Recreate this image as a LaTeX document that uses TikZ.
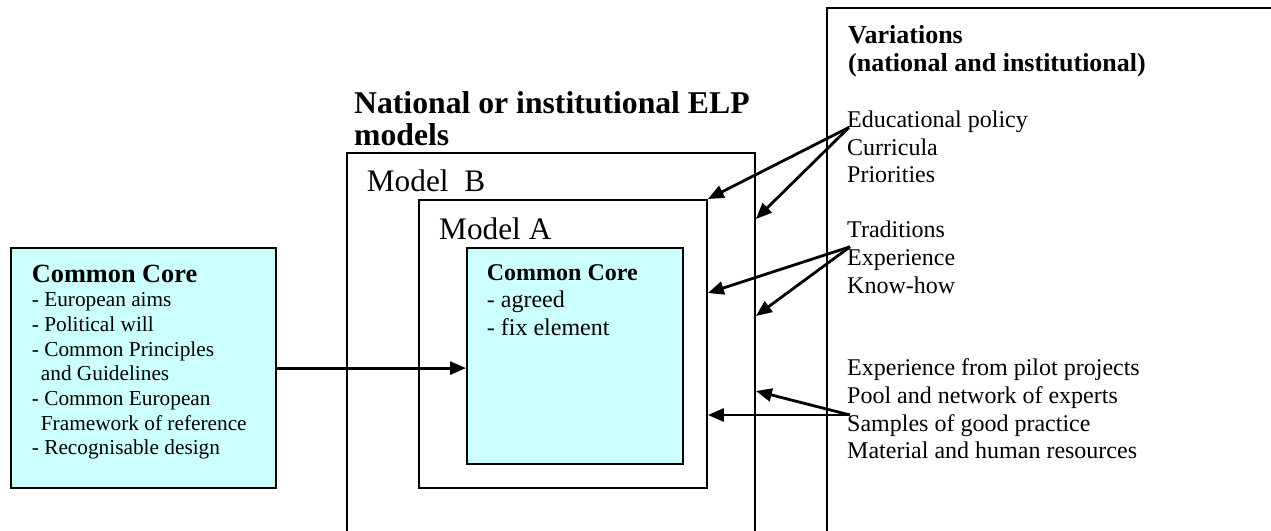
\documentclass[tikz,border=0pt]{standalone}
\usepackage{fontspec}
\setmainfont{Liberation Serif}
\usepackage{tikz}
\usetikzlibrary{arrows.meta}
\definecolor{corecyan}{HTML}{CCFFFF}
\newcommand{\fsize}[2]{\fontsize{#1}{#2}\selectfont}
\newcommand{\txtlines}[1]{\begin{tabular}[t]{@{}l@{}}#1\end{tabular}}
\tikzset{frame/.style={draw, line width=1.9pt, anchor=north west, inner sep=0pt}}
\tikzset{corebox/.style={frame, fill=corecyan, line width=2.2pt}}
\tikzset{pointer/.style={-{Triangle[length=16pt,width=13pt]}, line width=2.8pt}}
\tikzset{txt/.style={anchor=base west, inner sep=0pt}}

\begin{document}
\begin{tikzpicture}[x=1pt, y=-1pt]
    \useasboundingbox (0,0) rectangle (1271,530);
    \fill[white] (0,0) rectangle (1271,530);
    \clip (0,0) rectangle (1271,530);

    \node[corebox, minimum width=265pt, minimum height=240pt] at (10,247) (leftcore){};
    \node[frame, minimum width=408pt, minimum height=500pt] at (346,152) (modelB){};
    \node[frame, minimum width=288pt, minimum height=288pt] at (418,199) (modelA){};
    \node[corebox, minimum width=216pt, minimum height=216pt] at (466,247) (core){};
    \node[frame, minimum width=600pt, minimum height=600pt] at (826,7) (varbox){};

    \node[txt, font={\fsize{21.3}{24.7}}] at (31.7,282) (leftcoretxt){\txtlines{{\fsize{26.3}{24.7}\bfseries Common Core}\\- European aims\\- Political will\\- Common Principles\\\hspace{9pt}and Guidelines\\- Common European\\\hspace{9pt}Framework of reference\\- Recognisable design}};

    \node[txt, font={\fsize{31.7}{32}\bfseries}] at (354,113) (title){\txtlines{National or institutional ELP\\models}};
    \node[txt, font={\fsize{31.3}{36}}] at (366.7,191.7) (labelB){Model\ \ B};
    \node[txt, font={\fsize{31.3}{36}}] at (439,239) (labelA){Model A};
    \node[txt, font={\fsize{24}{27.5}}] at (486.7,280) (coretxt){\txtlines{{\bfseries Common Core}\\- agreed\\- fix element}};

    \node[txt, font={\fsize{26}{28.4}\bfseries}] at (848,43.3) (varhead){\txtlines{Variations\\(national and institutional)}};
    \node[txt, font={\fsize{24}{27.6}}] at (847,127.4) (policy){\txtlines{Educational policy\\Curricula\\Priorities}};
    \node[txt, font={\fsize{24}{27.6}}] at (847,237.8) (trad){\txtlines{Traditions\\Experience\\Know-how}};
    \node[txt, font={\fsize{24}{27.6}}] at (847,375.8) (res){\txtlines{Experience from pilot projects\\Pool and network of experts\\Samples of good practice\\Material and human resources}};

    \draw[pointer] (leftcore.east) -- (core.west |- leftcore.east);

    \draw[pointer] ([xshift=2pt]policy.base west) -- (modelA.north east);
    \draw[pointer] ([xshift=2pt]policy.base west) -- (modelB.east |- 0,219);
    \draw[pointer] ([xshift=3pt,yshift=-9pt]trad.base west) -- (modelA.east |- 0,293);
    \draw[pointer] ([xshift=3pt,yshift=-9pt]trad.base west) -- (modelB.east |- 0,316);
    \draw[pointer] ([xshift=3pt,yshift=-39.2pt]res.base west) -- (modelA.east |- 0,415);
    \draw[pointer] ([xshift=3pt,yshift=-39.2pt]res.base west) -- (modelB.east |- 0,391);
\end{tikzpicture}
\end{document}
